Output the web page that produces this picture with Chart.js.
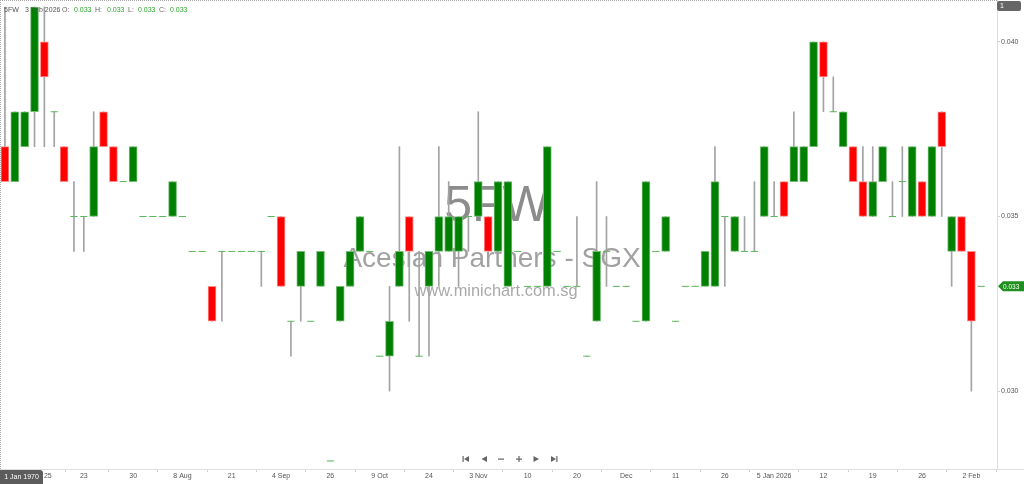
<!DOCTYPE html>
<html><head><meta charset="utf-8">
<script src="https://cdn.jsdelivr.net/npm/chart.js@4.4.1/dist/chart.umd.min.js"></script>
<style>html,body{margin:0;padding:0;background:#fff;overflow:hidden}canvas{display:block}</style>
</head><body>
<canvas id="c" width="1024" height="484"></canvas>
<script>
// ---- data (daily OHLC, one entry per traded day) ----
const openP = [
 .037,.036,.037,.038,.040,.038,.037,.035,.035,.035,
 .038,.037,.036,.036,.035,.035,.035,.035,.035,.034,
 .034,.033,.034,.034,.034,.034,.034,.035,.035,.032,
 .033,.032,.033,.028,.032,.033,.034,.034,.031,.031,
 .033,.035,.031,.033,.034,.034,.034,.035,.035,.035,
 .034,.033,.034,.033,.033,.033,.034,.033,.033,.031,
 .032,.034,.033,.033,.032,.032,.034,.034,.032,.033,
 .033,.033,.033,.035,.034,.034,.034,.035,.035,.036,
 .036,.036,.037,.040,.038,.037,.037,.036,.035,.036,
 .035,.036,.035,.036,.035,.038,.034,.035,.034,.033];
const highP = [
 .041,.038,.038,.041,.041,.038,.037,.036,.035,.038,
 .038,.037,.036,.037,.035,.035,.035,.036,.035,.034,
 .034,.033,.034,.034,.034,.034,.034,.035,.035,.032,
 .034,.032,.034,.028,.033,.034,.035,.034,.031,.033,
 .037,.035,.034,.034,.037,.036,.035,.035,.038,.035,
 .036,.036,.034,.033,.033,.037,.034,.033,.035,.031,
 .036,.035,.033,.033,.032,.036,.034,.035,.032,.033,
 .033,.034,.037,.035,.035,.035,.036,.037,.036,.036,
 .038,.037,.040,.040,.039,.038,.037,.037,.037,.037,
 .036,.037,.037,.036,.037,.038,.035,.035,.034,.033];
const lowP = [
 .036,.036,.037,.037,.037,.037,.036,.034,.034,.035,
 .037,.036,.036,.036,.035,.035,.035,.035,.035,.034,
 .034,.032,.032,.034,.034,.034,.033,.035,.033,.031,
 .032,.032,.033,.028,.032,.033,.034,.034,.031,.030,
 .033,.032,.031,.031,.033,.034,.033,.034,.035,.034,
 .034,.033,.034,.033,.033,.033,.034,.033,.033,.031,
 .032,.033,.033,.033,.032,.032,.034,.034,.032,.033,
 .033,.033,.033,.033,.034,.034,.034,.035,.035,.035,
 .036,.036,.037,.038,.038,.037,.036,.035,.035,.036,
 .035,.035,.035,.035,.035,.035,.033,.034,.030,.033];
const closeP = [
 .036,.038,.038,.041,.039,.038,.036,.035,.035,.037,
 .037,.036,.036,.037,.035,.035,.035,.036,.035,.034,
 .034,.032,.034,.034,.034,.034,.034,.035,.033,.032,
 .034,.032,.034,.028,.033,.034,.035,.034,.031,.032,
 .034,.034,.031,.034,.035,.035,.035,.035,.036,.034,
 .036,.036,.034,.033,.033,.037,.034,.033,.033,.031,
 .034,.034,.033,.033,.032,.036,.034,.035,.032,.033,
 .033,.034,.036,.035,.035,.034,.034,.037,.035,.035,
 .037,.037,.040,.039,.038,.038,.036,.035,.036,.037,
 .035,.036,.037,.035,.037,.037,.035,.034,.032,.033];
const tickLabels = ['25','23','30','8 Aug','21','4 Sep','26','9 Oct','24','3 Nov',
                    '10','20','Dec','11','26','5 Jan 2026','12','19','26','2 Feb'];
const tickIndex  = [4.35,8,13,18,23,28,33,38,43,48,53,58,63,68,73,78,83,88,93,98];
const yTickValues = [0.030, 0.035, 0.040];
const symbol = '5FW';
const lastDate = '3 Feb 2026';
const companyName = 'Acesian Partners - SGX';
const siteName = 'www.minichart.com.sg';

// ---- styles ----
const UP = '#008000', DOWN = '#ff0000';
const UP_EDGE = '#74bb74', DOWN_EDGE = '#ff8c8c';
const WICK = '#a3a3a3', DOJI = '#5cb85c';
const SMALL = '7px "Liberation Sans", Arial, sans-serif';

const n = closeP.length;
const bodyData = closeP.map((c, i) => ({x: i, y: openP[i] !== c ? [openP[i], c] : null}));
const wickData = closeP.map((c, i) => ({x: i, y: [lowP[i], highP[i]]}));
const dojiData = closeP.map((c, i) => ({x: i, y: openP[i] === c ? c : null}));
const isUp = i => closeP[i] >= openP[i];

const deco = {
  id: 'deco',
  beforeDatasetsDraw(chart) {
    const ctx = chart.ctx;
    ctx.save();
    ctx.textAlign = 'center';
    ctx.textBaseline = 'alphabetic';
    ctx.fillStyle = 'rgba(120,120,120,0.85)';
    ctx.font = '50px "Liberation Sans", Arial, sans-serif';
    ctx.fillText(symbol, 497, 221);
    ctx.fillStyle = 'rgba(130,130,130,0.75)';
    ctx.font = '28px "Liberation Sans", Arial, sans-serif';
    ctx.fillText(companyName, 492, 267);
    ctx.fillStyle = 'rgba(140,140,140,0.75)';
    ctx.font = '16.4px "Liberation Sans", Arial, sans-serif';
    ctx.fillText(siteName, 496, 296);
    ctx.restore();
  },
  afterDraw(chart) {
    const ctx = chart.ctx;
    const ca = chart.chartArea;
    ctx.save();
    // dotted frame top/left
    ctx.strokeStyle = '#a8a8a8';
    ctx.lineWidth = 1;
    ctx.setLineDash([1, 1]);
    ctx.beginPath();
    ctx.moveTo(0, 0.5); ctx.lineTo(ca.right, 0.5);
    ctx.moveTo(0.5, 0); ctx.lineTo(0.5, ca.bottom);
    ctx.stroke();
    ctx.setLineDash([]);
    // bottom line extension
    ctx.strokeStyle = '#dddddd';
    ctx.beginPath();
    ctx.moveTo(ca.right, ca.bottom + 0.5); ctx.lineTo(1024, ca.bottom + 0.5);
    ctx.stroke();

    // header
    ctx.font = SMALL;
    ctx.textBaseline = 'middle';
    ctx.textAlign = 'left';
    const hy = 10.5;
    const last = n - 1;
    ctx.fillStyle = '#555';
    ctx.fillText(symbol, 4, hy);
    ctx.fillText(lastDate, 25, hy);
    const parts = [['O:', 62, openP[last], 74], ['H:', 95, highP[last], 107],
                   ['L:', 128, lowP[last], 138], ['C:', 159, closeP[last], 170]];
    parts.forEach(p => {
      ctx.fillStyle = '#666';
      ctx.fillText(p[0], p[1], hy);
      ctx.fillStyle = '#2fa52f';
      ctx.fillText(p[2].toFixed(3), p[3], hy);
    });

    // top-right box "1"
    ctx.fillStyle = '#666';
    ctx.beginPath();
    ctx.roundRect(997, 1, 24, 10, 2);
    ctx.fill();
    ctx.fillStyle = '#fff';
    ctx.fillText('1', 1000, 6.5);

    // last price tag
    const py = chart.scales.y.getPixelForValue(closeP[last]);
    ctx.fillStyle = '#1f8f1f';
    ctx.beginPath();
    ctx.moveTo(998, py); ctx.lineTo(1003, py - 5); ctx.lineTo(1024, py - 5);
    ctx.lineTo(1024, py + 5); ctx.lineTo(1003, py + 5); ctx.closePath();
    ctx.fill();
    ctx.fillStyle = '#fff';
    ctx.font = '6.5px "Liberation Sans", Arial, sans-serif';
    ctx.fillText(closeP[last].toFixed(3), 1003, py + 0.5);

    // bottom-left date box
    ctx.fillStyle = '#5c5c5c';
    ctx.beginPath();
    ctx.roundRect(0, 470, 43, 14, [0, 3, 0, 0]);
    ctx.fill();
    ctx.fillStyle = '#fff';
    ctx.font = SMALL;
    ctx.textAlign = 'center';
    ctx.fillText('1 Jan 1970', 21.5, 477);

    // navigation icons
    ctx.fillStyle = '#666';
    const cy = 459;
    const tri = (x1, x2) => { ctx.beginPath(); ctx.moveTo(x1, cy - 3); ctx.lineTo(x1, cy + 3); ctx.lineTo(x2, cy); ctx.closePath(); ctx.fill(); };
    ctx.fillRect(462.5, cy - 3, 1.2, 6); tri(469, 464);
    tri(487, 481.5);
    ctx.fillRect(498, cy - 0.5, 6, 1.2);
    ctx.fillRect(516, cy - 0.5, 6, 1.2); ctx.fillRect(518.4, cy - 3, 1.2, 6);
    tri(533.5, 539);
    tri(551, 556); ctx.fillRect(556.3, cy - 3, 1.2, 6);
    ctx.restore();
  }
};

new Chart(document.getElementById('c'), {
  type: 'bar',
  data: {
    datasets: [
      { type: 'scatter', data: dojiData, pointStyle: 'line', pointRadius: 3.6, pointBorderWidth: 1,
        borderColor: DOJI, backgroundColor: DOJI, order: 1 },
      { data: bodyData, grouped: false, barThickness: 8, borderWidth: 1, borderSkipped: false,
        backgroundColor: ctx => isUp(ctx.dataIndex) ? UP : DOWN,
        borderColor: ctx => isUp(ctx.dataIndex) ? UP_EDGE : DOWN_EDGE, order: 2 },
      { data: wickData, grouped: false, barThickness: 1, borderWidth: 0,
        backgroundColor: WICK, order: 3 }
    ]
  },
  options: {
    responsive: false,
    animation: false,
    events: [],
    layout: { padding: 0, autoPadding: false },
    plugins: { legend: { display: false }, tooltip: { enabled: false } },
    scales: {
      x: {
        type: 'linear', min: -0.5, max: 100.6, offset: false,
        afterBuildTicks: s => { s.ticks = tickIndex.map(v => ({ value: v })); },
        afterFit: s => { s.height = 15; s.paddingLeft = 0; s.paddingRight = 0; },
        ticks: { autoSkip: false, maxRotation: 0, padding: 0, color: '#555', font: { size: 7, family: '"Liberation Sans", Arial, sans-serif' },
                 callback: v => tickLabels[tickIndex.indexOf(v)] },
        grid: { drawOnChartArea: false, drawTicks: true, tickLength: 3, color: '#d0d0d0' },
        border: { color: '#dddddd' }
      },
      y: {
        position: 'right', min: 0.02777, max: 0.0412,
        afterBuildTicks: s => { s.ticks = yTickValues.map(v => ({ value: v })); },
        afterFit: s => { s.width = 27; s.paddingTop = 0; s.paddingBottom = 0; },
        ticks: { padding: 1, color: '#555', font: { size: 7, family: '"Liberation Sans", Arial, sans-serif' },
                 callback: v => v.toFixed(3) },
        grid: { drawOnChartArea: false, drawTicks: true, tickLength: 3, color: '#cfcfcf' },
        border: { color: '#dddddd' }
      }
    }
  },
  plugins: [deco]
});
</script>
</body></html>
